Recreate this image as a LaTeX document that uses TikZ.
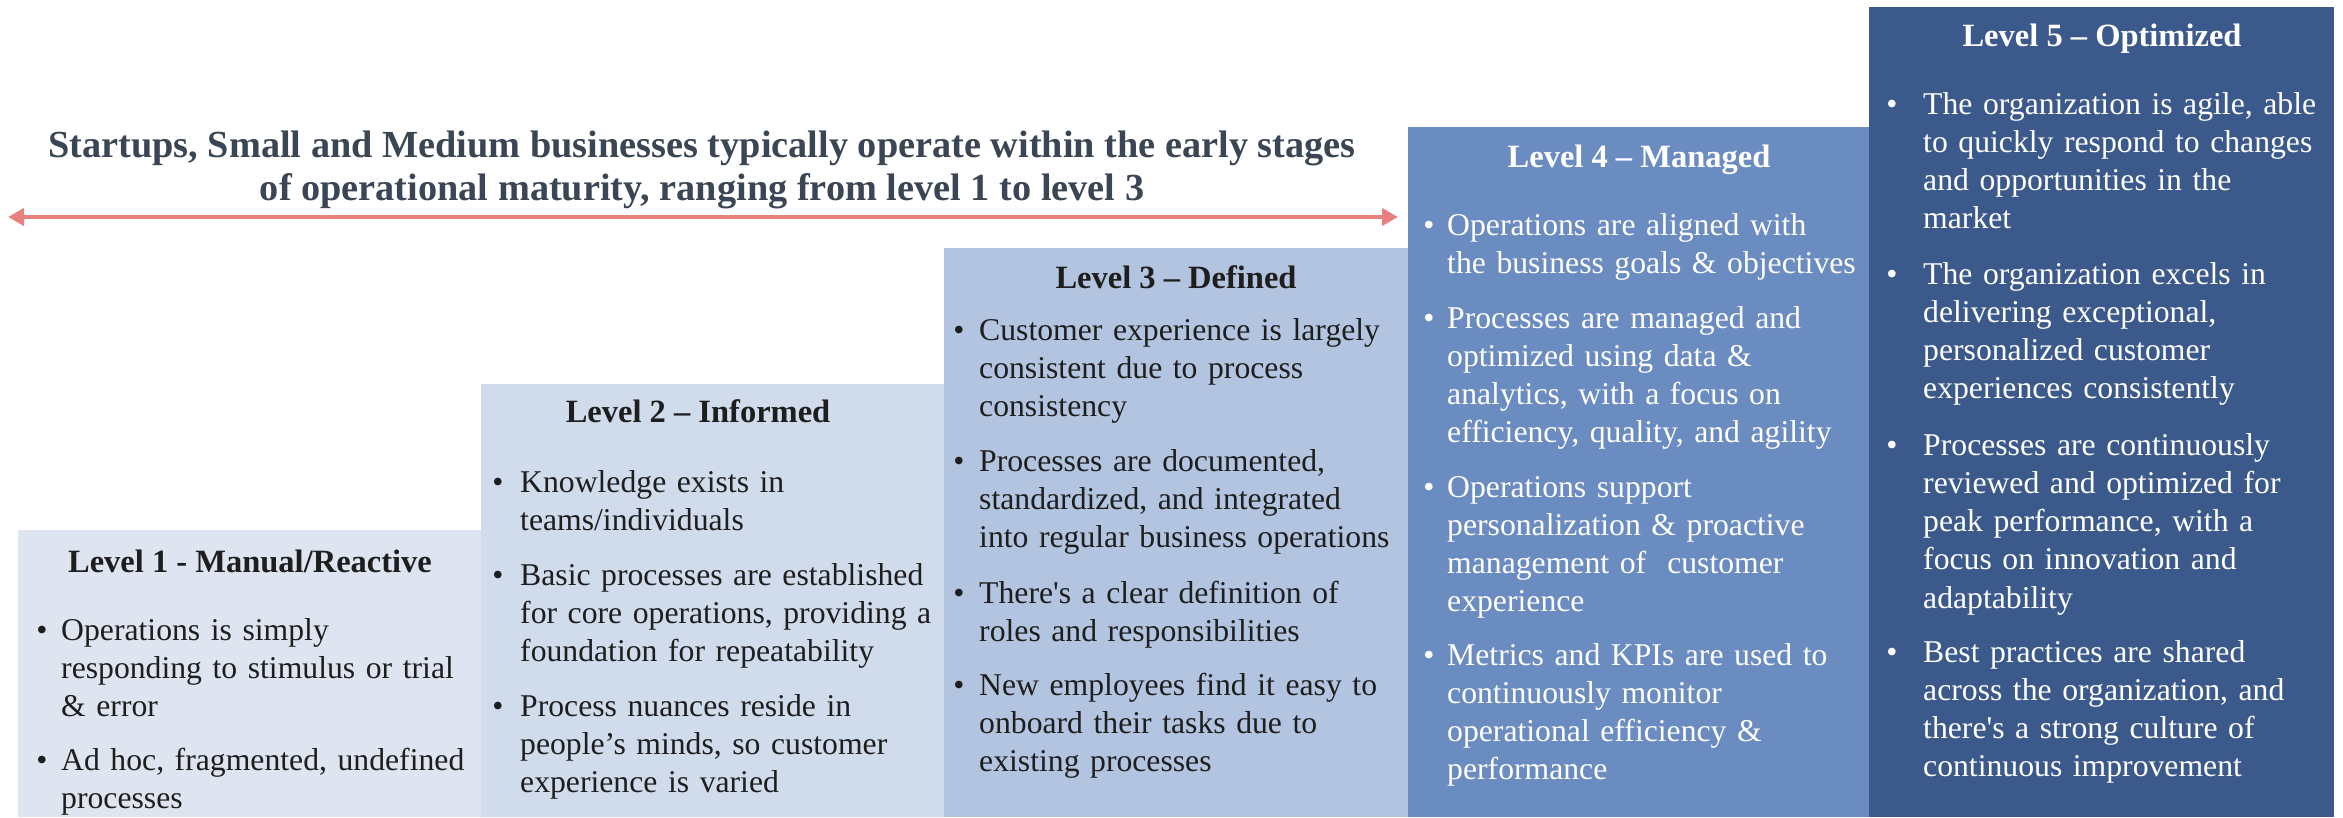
\documentclass[tikz,border=0pt]{standalone}
\usepackage{fontspec}
\setmainfont{Liberation Serif}
\usetikzlibrary{arrows.meta}
\definecolor{cA}{RGB}{222,228,240}
\definecolor{cB}{RGB}{208,219,235}
\definecolor{cC}{RGB}{178,196,223}
\definecolor{cD}{RGB}{107,140,192}
\definecolor{cE}{RGB}{59,90,139}
\definecolor{dark}{RGB}{30,30,30}
\definecolor{headc}{RGB}{59,70,84}
\definecolor{salmon}{RGB}{232,128,126}
\begin{document}
\begin{tikzpicture}[x=1pt,y=-1pt,
  box/.style={draw=none,fill=#1,inner sep=0,outer sep=0,anchor=north west},
  ttl/.style={font=\fontsize{32.5}{38.3}\selectfont\bfseries,anchor=base,inner sep=0},
  txt/.style={font=\fontsize{31.7}{38.3}\selectfont,anchor=base west,inner sep=0,text width=440pt,align=left},
  bul/.style={font=\fontsize{31.7}{38.3}\selectfont,anchor=base,inner sep=0},
  head/.style={font=\fontsize{38.3}{43}\selectfont\bfseries,text=headc,anchor=base,inner sep=0},
  arr/.style={draw=salmon,line width=4pt,{Triangle[length=16pt,width=17pt]}-{Triangle[length=16pt,width=17pt]}},
]
\useasboundingbox (0,0) rectangle (2343,817);
\fill[white] (0,0) rectangle (2343,817);
% boxes
\node[box=cA,minimum width=463pt,minimum height=287pt] (L1) at (18,530) {};
\node[box=cB,minimum width=463pt,minimum height=433pt] (L2) at (481,384) {};
\node[box=cC,minimum width=464pt,minimum height=569pt] (L3) at (944,248) {};
\node[box=cD,minimum width=461pt,minimum height=690pt] (L4) at (1408,127) {};
\node[box=cE,minimum width=465pt,minimum height=810pt] (L5) at (1869,7) {};
% headline and arrow
\node[head] (h1) at (702,157) {Startups, Small and Medium businesses typically operate within the early stages};
\node[head] (h2) at (702,200) {of operational maturity, ranging from level 1 to level 3};
\coordinate (aL) at (8,217);
\coordinate (aR) at (1398,217);
\draw[arr] (aL) -- (aR);
% Level 1
\begin{scope}[every node/.append style={text=dark}]
\node[ttl] (t1) at (250,572) {Level 1 - Manual/Reactive};
\node[bul] (p11) at (42,640) {•};
\node[txt] (x11) at (61,640) {Operations is simply\\responding to stimulus or trial\\\& error};
\node[bul] (p12) at (42,770) {•};
\node[txt] (x12) at (61,770) {Ad hoc, fragmented, undefined\\processes};
% Level 2
\node[ttl] (t2) at (698,422) {Level 2 – Informed};
\node[bul] (p21) at (498,492) {•};
\node[txt] (x21) at (520,492) {Knowledge exists in\\teams/individuals};
\node[bul] (p22) at (498,585) {•};
\node[txt] (x22) at (520,585) {Basic processes are established\\for core operations, providing a\\foundation for repeatability};
\node[bul] (p23) at (498,716) {•};
\node[txt] (x23) at (520,716) {Process nuances reside in\\people’s minds, so customer\\experience is varied};
% Level 3
\node[ttl] (t3) at (1176,288) {Level 3 – Defined};
\node[bul] (p31) at (959,340) {•};
\node[txt] (x31) at (979,340) {Customer experience is largely\\consistent due to process\\consistency};
\node[bul] (p32) at (959,471) {•};
\node[txt] (x32) at (979,471) {Processes are documented,\\standardized, and integrated\\into regular business operations};
\node[bul] (p33) at (959,603) {•};
\node[txt] (x33) at (979,603) {There\textquotesingle s a clear definition of\\roles and responsibilities};
\node[bul] (p34) at (959,695) {•};
\node[txt] (x34) at (979,695) {New employees find it easy to\\onboard their tasks due to\\existing processes};
\end{scope}
% Level 4
\begin{scope}[every node/.append style={text=white}]
\node[ttl] (t4) at (1639,167) {Level 4 – Managed};
\node[bul] (p41) at (1429,235) {•};
\node[txt] (x41) at (1447,235) {Operations are aligned with\\the business goals \& objectives};
\node[bul] (p42) at (1429,328) {•};
\node[txt] (x42) at (1447,328) {Processes are managed and\\optimized using data \&\\analytics, with a focus on\\efficiency, quality, and agility};
\node[bul] (p43) at (1429,497) {•};
\node[txt] (x43) at (1447,497) {Operations support\\personalization \& proactive\\management of~ customer\\experience};
\node[bul] (p44) at (1429,665) {•};
\node[txt] (x44) at (1447,665) {Metrics and KPIs are used to\\continuously monitor\\operational efficiency \&\\performance};
% Level 5
\node[ttl] (t5) at (2102,46) {Level 5 – Optimized};
\node[bul] (p51) at (1892,114) {•};
\node[txt] (x51) at (1923,114) {The organization is agile, able\\to quickly respond to changes\\and opportunities in the\\market};
\node[bul] (p52) at (1892,284) {•};
\node[txt] (x52) at (1923,284) {The organization excels in\\delivering exceptional,\\personalized customer\\experiences consistently};
\node[bul] (p53) at (1892,455) {•};
\node[txt] (x53) at (1923,455) {Processes are continuously\\reviewed and optimized for\\peak performance, with a\\focus on innovation and\\adaptability};
\node[bul] (p54) at (1892,662) {•};
\node[txt] (x54) at (1923,662) {Best practices are shared\\across the organization, and\\there\textquotesingle s a strong culture of\\continuous improvement};
\end{scope}
\end{tikzpicture}
\end{document}
